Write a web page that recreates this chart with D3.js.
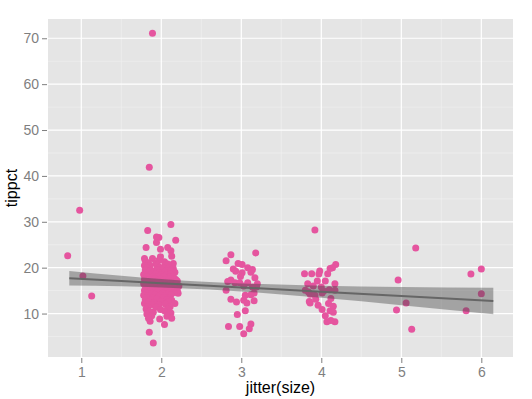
<!DOCTYPE html>
<html>
<head>
<meta charset="utf-8">
<script src="https://cdn.jsdelivr.net/npm/d3@7"></script>
<style>
  body { margin: 0; background: #fff; }
  text { font-family: "Liberation Sans", Arial, sans-serif; }
</style>
</head>
<body>
<svg id="chart"></svg>
<script>
var width = 532;
var height = 399;
var margin = {top: 19, right: 19, bottom: 42, left: 48};

// tick labels
var xTicks = [1, 2, 3, 4, 5, 6];
var yTicks = [10, 20, 30, 40, 50, 60, 70];

// size 1 group (jittered x, tippct)
var group1 = [[0.98, 32.5], [0.83, 22.6], [1.02, 18.2], [1.13, 13.8]];

// size 2 group
var group2 = [
  [1.89, 71.1], [1.85, 41.9], [2.12, 29.4], [1.83, 28.1], [1.97, 26.6], [1.94, 26.7],
  [2.18, 26.0], [1.94, 25.5], [1.81, 24.4], [1.99, 24.0], [2.08, 24.4], [2.12, 23.7],
  [1.79, 22.0], [1.89, 22.0], [1.99, 22.4], [2.13, 22.5], [2.15, 20.9], [2.18, 17.4],
  [1.90, 3.6], [1.85, 5.9], [1.86, 8.3], [2.04, 7.6], [1.98, 8.8], [2.12, 10.1],
  [1.90, 10.3], [1.79, 12.2], [2.17, 12.2], [2.21, 14.4],
  [1.80, 21.5], [1.97, 21.6], [2.04, 21.3],
  [1.84, 21.0], [1.93, 20.9], [2.08, 20.8],
  [1.79, 20.5], [1.86, 20.4], [1.95, 20.6], [2.05, 20.4],
  [1.82, 20.0], [1.98, 20.1], [2.03, 19.9], [2.10, 20.0], [2.15, 19.8],
  [1.80, 19.5], [1.87, 19.4], [1.94, 19.6], [2.07, 19.4], [2.13, 19.5],
  [1.84, 19.0], [1.91, 19.1], [1.97, 18.9], [2.04, 19.0], [2.17, 19.0],
  [1.78, 18.5], [1.86, 18.4], [1.93, 18.6], [2.01, 18.5], [2.06, 18.4], [2.12, 18.6],
  [1.82, 18.0], [1.89, 17.9], [1.96, 18.1], [2.03, 18.0], [2.10, 17.9], [2.15, 18.1],
  [1.79, 17.5], [1.85, 17.4], [1.92, 17.6], [1.99, 17.5], [2.05, 17.4], [2.11, 17.6], [2.17, 17.5],
  [1.81, 17.0], [1.88, 16.9], [1.95, 17.1], [2.02, 17.0], [2.08, 16.9], [2.14, 17.0], [2.20, 17.1],
  [1.78, 16.5], [1.84, 16.4], [1.91, 16.6], [1.98, 16.5], [2.04, 16.4], [2.12, 16.6], [2.18, 16.5],
  [1.80, 16.0], [1.87, 15.9], [1.94, 16.1], [2.01, 16.0], [2.07, 15.9], [2.15, 16.1], [2.22, 16.0],
  [1.83, 15.5], [1.90, 15.4], [1.97, 15.6], [2.03, 15.5], [2.10, 15.4], [2.17, 15.6],
  [1.79, 15.0], [1.86, 14.9], [1.93, 15.1], [2.00, 15.0], [2.06, 14.9], [2.13, 15.1], [2.20, 15.0],
  [1.81, 14.5], [1.88, 14.4], [1.95, 14.6], [2.02, 14.5], [2.09, 14.4], [2.16, 14.6],
  [1.78, 14.0], [1.85, 13.9], [1.92, 14.1], [1.99, 14.0], [2.05, 13.9], [2.12, 14.1],
  [1.82, 13.5], [1.89, 13.4], [1.96, 13.6], [2.03, 13.5], [2.10, 13.4],
  [1.80, 13.0], [1.87, 12.9], [1.94, 13.1], [2.07, 13.0], [2.13, 12.9],
  [1.84, 12.5], [1.91, 12.4], [2.00, 12.6], [2.09, 12.5],
  [1.88, 12.0], [1.97, 11.9], [2.05, 12.1],
  [1.83, 11.5], [1.93, 11.4], [2.11, 11.5],
  [1.81, 11.0], [1.99, 10.9], [2.08, 11.0],
  [1.85, 10.5], [2.04, 10.6],
  [1.82, 9.9], [2.10, 9.8],
  [1.88, 9.5], [2.07, 9.4],
  [1.84, 9.0], [2.13, 9.0]
];

// size 3 group
var group3 = [
  [3.18, 23.2], [2.87, 22.8], [2.81, 21.5], [2.96, 20.9], [3.01, 20.7], [2.90, 19.7],
  [3.14, 19.6], [3.01, 18.9], [3.12, 19.0], [2.99, 18.1], [3.17, 17.8], [2.87, 17.3],
  [2.92, 16.7], [2.98, 16.7], [3.08, 16.7], [2.81, 15.1], [3.14, 15.8], [3.19, 15.8],
  [3.16, 14.5], [3.12, 14.1], [2.87, 13.1], [2.94, 12.5], [3.03, 12.9], [3.07, 12.3],
  [3.05, 10.6], [2.95, 9.8], [2.84, 7.2], [2.98, 7.2], [3.12, 7.7], [3.10, 6.7],
  [3.03, 5.6], [3.03, 16.0], [3.20, 16.5], [2.83, 17.0], [3.05, 14.0], [2.93, 19.2],
  [3.16, 12.8], [3.08, 20.0]
];

// size 4 group
var group4 = [
  [3.92, 28.2], [4.18, 20.7], [4.14, 20.0], [4.11, 19.8], [3.79, 18.7], [3.88, 18.7],
  [3.98, 19.3], [3.97, 18.6], [4.08, 18.7], [3.95, 17.1], [4.05, 17.1], [3.83, 16.5],
  [4.17, 16.5], [4.10, 15.2], [4.03, 14.9], [3.80, 15.1], [3.86, 14.2], [3.92, 14.0],
  [4.01, 14.5], [4.17, 15.1], [3.86, 12.3], [3.93, 13.1], [3.96, 11.8], [4.09, 12.2],
  [4.01, 10.9], [4.11, 10.6], [4.15, 11.6], [4.17, 8.2], [4.07, 8.2], [4.12, 8.5],
  [3.84, 14.7], [4.15, 10.3], [4.00, 15.8], [3.90, 16.0], [4.12, 13.3], [3.85, 12.6],
  [4.05, 9.5]
];

// size 5 and 6 groups
var group5 = [[5.18, 24.3], [4.96, 17.3], [5.06, 12.3], [4.94, 10.8], [5.13, 6.6]];
var group6 = [[5.87, 18.6], [6.00, 19.7], [6.00, 14.3], [5.81, 10.6]];

// linear fit with confidence band
var fitX  = [0.85, 1.5, 2.0, 2.6, 3.0, 4.0, 5.0, 6.15];
var fitY  = [17.7, 17.1, 16.6, 16.05, 15.7, 14.75, 13.8, 12.75];
var fitLo = [16.1, 15.95, 15.67, 15.24, 14.83, 13.43, 11.82, 9.85];
var fitHi = [19.3, 18.25, 17.53, 16.86, 16.57, 16.07, 15.78, 15.65];

var points = group1.concat(group2, group3, group4, group5, group6);
var band = fitX.map(function(x, i) { return {x: x, y: fitY[i], lo: fitLo[i], hi: fitHi[i]}; });

var w = width - margin.left - margin.right;
var h = height - margin.top - margin.bottom;

var x = d3.scaleLinear().domain([0.584, 6.396]).range([0, w]);
var y = d3.scaleLinear().domain([0.53, 74.2]).range([h, 0]);

var svg = d3.select('#chart')
    .attr('width', width)
    .attr('height', height);

var g = svg.append('g')
    .attr('transform', 'translate(' + margin.left + ',' + margin.top + ')');

g.append('rect')
    .attr('width', w)
    .attr('height', h)
    .attr('fill', '#e5e5e5');

// minor grid
var xMinor = xTicks.slice(0, -1).map(function(d) { return d + 0.5; });
var yMinor = [5].concat(yTicks.map(function(d) { return d + 5; }));
g.selectAll('.xminor').data(xMinor).enter().append('line')
    .attr('x1', x).attr('x2', x).attr('y1', 0).attr('y2', h)
    .attr('stroke', '#f2f2f2').attr('stroke-width', 0.6);
g.selectAll('.yminor').data(yMinor.filter(function(d) { return d < 74; })).enter().append('line')
    .attr('y1', y).attr('y2', y).attr('x1', 0).attr('x2', w)
    .attr('stroke', '#f2f2f2').attr('stroke-width', 0.6);

// major grid
g.selectAll('.xmajor').data(xTicks).enter().append('line')
    .attr('x1', x).attr('x2', x).attr('y1', 0).attr('y2', h)
    .attr('stroke', '#fff').attr('stroke-width', 1.2);
g.selectAll('.ymajor').data(yTicks).enter().append('line')
    .attr('y1', y).attr('y2', y).attr('x1', 0).attr('x2', w)
    .attr('stroke', '#fff').attr('stroke-width', 1.2);

// points
g.append('g').selectAll('circle')
    .data(points)
    .enter().append('circle')
    .attr('cx', function(d) { return x(d[0]); })
    .attr('cy', function(d) { return y(d[1]); })
    .attr('r', 3.5)
    .attr('fill', '#e5559f');

// confidence band
var area = d3.area()
    .curve(d3.curveMonotoneX)
    .x(function(d) { return x(d.x); })
    .y0(function(d) { return y(d.lo); })
    .y1(function(d) { return y(d.hi); });
g.append('path')
    .datum(band)
    .attr('d', area)
    .attr('fill', '#404040')
    .attr('fill-opacity', 0.4);

var line = d3.line()
    .x(function(d) { return x(d.x); })
    .y(function(d) { return y(d.y); });
g.append('path')
    .datum(band)
    .attr('d', line)
    .attr('fill', 'none')
    .attr('stroke', '#666')
    .attr('stroke-width', 2);

// axes
var xAxis = d3.axisBottom(x).tickValues(xTicks).tickSize(5).tickPadding(4).tickFormat(d3.format('d'));
var yAxis = d3.axisLeft(y).tickValues(yTicks).tickSize(5).tickPadding(3).tickFormat(d3.format('d'));

var gx = g.append('g').attr('transform', 'translate(0,' + (h + 1) + ')').call(xAxis);
var gy = g.append('g').attr('transform', 'translate(-1,0)').call(yAxis);
[gx, gy].forEach(function(a) {
  a.select('.domain').remove();
  a.selectAll('line').attr('stroke', '#7f7f7f');
  a.selectAll('text').attr('fill', '#7f7f7f').style('font-size', '14px');
});

svg.append('text')
    .attr('x', margin.left + w / 2)
    .attr('y', 393)
    .attr('text-anchor', 'middle')
    .style('font-size', '16px')
    .text('jitter(size)');

svg.append('text')
    .attr('transform', 'translate(17,' + (margin.top + h / 2) + ') rotate(-90)')
    .attr('text-anchor', 'middle')
    .style('font-size', '16px')
    .text('tippct');
</script>
</body>
</html>
